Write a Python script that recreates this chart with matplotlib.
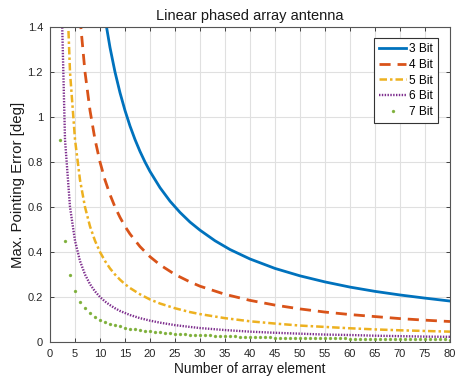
import matplotlib
matplotlib.use("Agg")
import matplotlib.pyplot as plt

plt.rcParams['font.family'] = ['Liberation Sans', 'DejaVu Sans']

# 3 Bit
n3 = [10, 11, 12, 13, 14, 15, 16, 17, 18, 19, 20, 22, 24, 26, 28, 30, 33, 36, 40, 45, 50, 55, 60, 65, 70, 75, 80]
e3 = [1.600, 1.440, 1.309, 1.200, 1.108, 1.029, 0.960, 0.900, 0.847, 0.800, 0.758, 0.686, 0.626, 0.576, 0.533,
      0.497, 0.450, 0.411, 0.369, 0.327, 0.294, 0.267, 0.244, 0.225, 0.209, 0.195, 0.182]
# 4 Bit
n4 = [6, 7, 8, 9, 10, 11, 12, 13, 14, 15, 16, 18, 20, 22, 25, 28, 30, 35, 40, 45, 50, 55, 60, 65, 70, 75, 80]
e4 = [1.440, 1.200, 1.029, 0.900, 0.800, 0.720, 0.655, 0.600, 0.554, 0.514, 0.480, 0.424, 0.379, 0.343, 0.300,
      0.267, 0.248, 0.212, 0.185, 0.164, 0.147, 0.133, 0.122, 0.113, 0.104, 0.097, 0.091]
# 5 Bit
n5 = [3, 4, 5, 6, 7, 8, 9, 10, 11, 12, 13, 14, 15, 16, 18, 20, 22, 25, 28, 30, 35, 40, 45, 50, 55, 60, 65, 70, 75, 80]
e5 = [1.800, 1.200, 0.900, 0.720, 0.600, 0.514, 0.450, 0.400, 0.360, 0.327, 0.300, 0.277, 0.257, 0.240, 0.212,
      0.189, 0.171, 0.150, 0.133, 0.124, 0.106, 0.092, 0.082, 0.073, 0.067, 0.061, 0.056, 0.052, 0.049, 0.046]
# 6 Bit
n6 = [2, 3, 4, 5, 6, 7, 8, 9, 10, 11, 12, 13, 14, 15, 16, 18, 20, 22, 25, 28, 30, 35, 40, 45, 50, 55, 60, 65, 70, 75, 80]
e6 = [1.800, 0.900, 0.600, 0.450, 0.360, 0.300, 0.257, 0.225, 0.200, 0.180, 0.164, 0.150, 0.138, 0.129, 0.120,
      0.106, 0.095, 0.086, 0.075, 0.067, 0.062, 0.053, 0.046, 0.041, 0.037, 0.033, 0.031, 0.028, 0.026, 0.024, 0.023]
# 7 Bit (one point per element count 2..80)
n7 = list(range(2, 81))
e7 = [0.900, 0.450, 0.300, 0.225, 0.180, 0.150, 0.129, 0.113, 0.100, 0.090,
      0.082, 0.075, 0.069, 0.064, 0.060, 0.056, 0.053, 0.050, 0.047, 0.045,
      0.043, 0.041, 0.039, 0.0375, 0.036, 0.035, 0.033, 0.032, 0.031, 0.030,
      0.029, 0.028, 0.027, 0.026, 0.026, 0.025, 0.024, 0.024, 0.023, 0.0225,
      0.022, 0.021, 0.021, 0.020, 0.020, 0.020, 0.019, 0.019, 0.018, 0.018,
      0.018, 0.017, 0.017, 0.017, 0.016, 0.016, 0.016, 0.016, 0.015, 0.015,
      0.015, 0.015, 0.014, 0.014, 0.014, 0.014, 0.013, 0.013, 0.013, 0.013,
      0.013, 0.0125, 0.012, 0.012, 0.012, 0.012, 0.012, 0.0115, 0.011]

labels = ['3 Bit', '4 Bit', '5 Bit', '6 Bit', '7 Bit']
colors = ['#0072BD', '#D95319', '#EDB120', '#7E2F8E', '#77AC30']

xticks = list(range(0, 81, 5))
yticks = [0, 0.2, 0.4, 0.6, 0.8, 1.0, 1.2, 1.4]
ytick_labels = ['0', '0.2', '0.4', '0.6', '0.8', '1', '1.2', '1.4']

fig = plt.figure(figsize=(4.55, 3.83), dpi=100)
ax = fig.add_axes([50/455, 1 - 342/383, 400/455, 315/383])

ax.plot(n3, e3, '-', color=colors[0], lw=2.0, label=labels[0])
ax.plot(n4, e4, '--', color=colors[1], lw=2.0, dashes=(4, 2.5), label=labels[1])
ax.plot(n5, e5, '-.', color=colors[2], lw=1.8, dashes=(3, 1.2, 1, 1.2), label=labels[2])
ax.plot(n6, e6, ':', color=colors[3], lw=1.7, dashes=(0.6, 0.6), label=labels[3])
ax.plot(n7, e7, '.', color=colors[4], ms=2.8, alpha=0.85, label=labels[4])

ax.set_xlim(0, 80)
ax.set_ylim(0, 1.4)
ax.set_xticks(xticks)
ax.set_yticks(yticks)
ax.set_yticklabels(ytick_labels)
ax.grid(True, color='#e0e0e0', lw=0.8)
ax.set_axisbelow(True)
ax.tick_params(direction='in', top=True, right=True, length=3, labelsize=8,
               colors='#262626', width=0.6, pad=5)
for s in ax.spines.values():
    s.set_color('#555555')
    s.set_linewidth(0.8)

ax.set_title('Linear phased array antenna', fontsize=10.5, color='#1a1a1a', pad=5)
ax.set_xlabel('Number of array element', fontsize=9.8, color='#1a1a1a', labelpad=2)
ax.set_ylabel('Max. Pointing Error [deg]', fontsize=10.8, color='#1a1a1a', labelpad=2)

leg = ax.legend(loc='upper right', fontsize=8.6, handlelength=2.3, handletextpad=0.2,
                borderpad=0.45, labelspacing=0.3, fancybox=False, framealpha=1,
                edgecolor='#333333', bbox_to_anchor=(0.97, 0.965), borderaxespad=0)
leg.get_frame().set_linewidth(0.8)

fig.savefig('out.png', dpi=100)
